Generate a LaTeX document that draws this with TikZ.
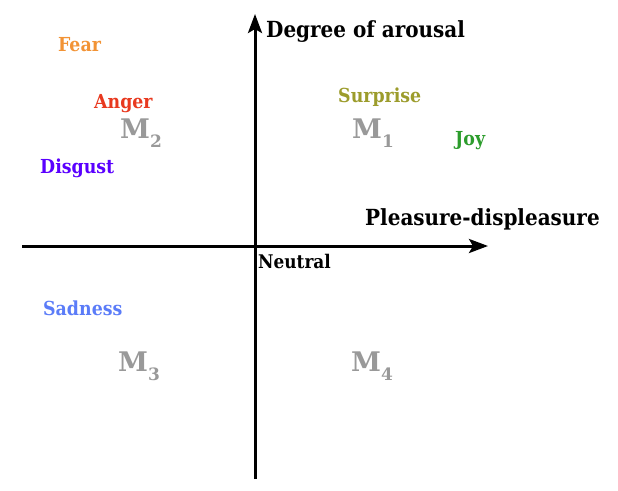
\documentclass[tikz,border=0pt]{standalone}
\usepackage{fontspec}
\setmainfont{DejaVu Serif Condensed}
\newfontfamily\mfont{DejaVu Serif}
\usetikzlibrary{arrows.meta}
\definecolor{cfear}{HTML}{F29335}
\definecolor{canger}{HTML}{E8391F}
\definecolor{cdisgust}{HTML}{5A00FF}
\definecolor{csurprise}{HTML}{9C9C2C}
\definecolor{cjoy}{HTML}{2C9C2C}
\definecolor{csad}{HTML}{5B7CF8}
\definecolor{cgrey}{HTML}{999999}
\newcommand{\msubx}[1]{\raisebox{-9pt}{\fontsize{17}{17}\selectfont #1}}
\begin{document}
\begin{tikzpicture}[x=1pt,y=-1pt,
  lab/.style={inner sep=0pt, anchor=base west, font=\fontsize{19.3}{21}\selectfont\bfseries},
  head/.style={inner sep=0pt, anchor=base west, font=\fontsize{22.2}{24}\selectfont\bfseries},
  mlab/.style={inner sep=0pt, anchor=base west, text=cgrey, font=\mfont\fontsize{27}{29}\selectfont\bfseries},
  axis/.style={line width=3pt, -{Stealth[length=19pt,width=14pt,inset=4pt]}}]
\useasboundingbox (0,0) rectangle (618,490);
\coordinate (vb) at (255,479);
\coordinate (vt) at (255,14);
\coordinate (hl) at (22,246);
\coordinate (hr) at (488,246);
\draw[axis] (vb) -- (vt);
\draw[axis] (hl) -- (hr);
\node[head] (deg) at (266,37) {Degree of arousal};
\node[head] (ple) at (365,225) {Pleasure-displeasure};
\node[lab, font=\fontsize{18.8}{20}\selectfont\bfseries] (neu) at (258,268) {Neutral};
\node[lab, text=cfear] (fear) at (58,51) {Fear};
\node[lab, text=canger] (anger) at (94,108) {Anger};
\node[lab, text=cdisgust] (disg) at (40,173) {Disgust};
\node[lab, text=csurprise] (surp) at (338,102) {Surprise};
\node[lab, text=cjoy] (joy) at (455,145) {Joy};
\node[lab, text=csad] (sad) at (43,315) {Sadness};
\node[mlab] (m1) at (352,138) {M\msubx{1}};
\node[mlab] (m2) at (120,138) {M\msubx{2}};
\node[mlab] (m3) at (118,371) {M\msubx{3}};
\node[mlab] (m4) at (351,371) {M\msubx{4}};
\end{tikzpicture}
\end{document}
